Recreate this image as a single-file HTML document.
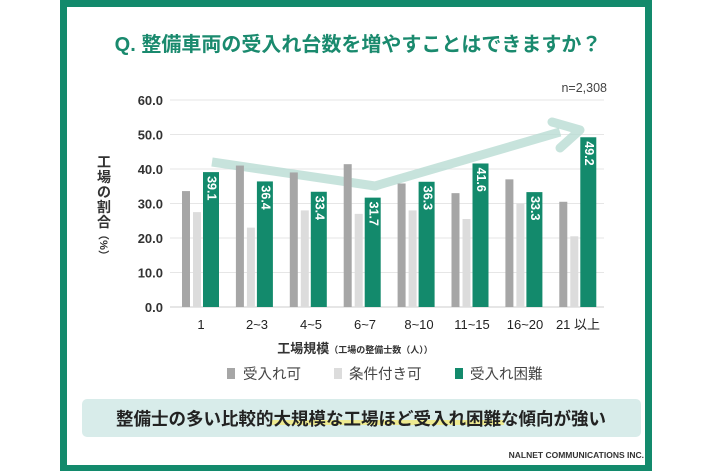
<!DOCTYPE html>
<html><head><meta charset="utf-8"><style>
html,body{margin:0;padding:0;background:#fff;}
svg{display:block;}
text{font-family:"Liberation Sans","Noto Sans CJK JP",sans-serif;}
</style></head><body>
<svg width="710" height="474" viewBox="0 0 710 474" xmlns="http://www.w3.org/2000/svg">
<rect x="0" y="0" width="710" height="474" fill="#fff"/>
<rect x="60" y="-5" width="592" height="476" fill="#138a6c"/>
<rect x="67" y="7" width="578" height="458" fill="#fff"/>
<text x="358" y="51" text-anchor="middle" font-size="20" font-weight="bold" fill="#1a8a6e">Q. 整備車両の受入れ台数を増やすことはできますか？</text>
<text x="607" y="92" text-anchor="end" font-size="12.5" fill="#444">n=2,308</text>
<g stroke="#e6e6e6" stroke-width="1">
<line x1="170" y1="100" x2="604" y2="100"/><line x1="170" y1="134.5" x2="604" y2="134.5"/><line x1="170" y1="169" x2="604" y2="169"/><line x1="170" y1="203.5" x2="604" y2="203.5"/><line x1="170" y1="238" x2="604" y2="238"/><line x1="170" y1="272.5" x2="604" y2="272.5"/>
</g>
<line x1="170" y1="307" x2="604" y2="307" stroke="#ccc" stroke-width="1"/>
<g font-size="13" font-weight="bold" fill="#333" text-anchor="end">
<text x="163" y="105">60.0</text><text x="163" y="139.5">50.0</text><text x="163" y="174">40.0</text><text x="163" y="208.5">30.0</text><text x="163" y="243">20.0</text><text x="163" y="277.5">10.0</text><text x="163" y="312">0.0</text>
</g>
<g font-size="14" font-weight="bold" fill="#333" text-anchor="middle">
<text x="104" y="167">工</text><text x="104" y="182">場</text><text x="104" y="197">の</text><text x="104" y="212">割</text><text x="104" y="227">合</text>
<text x="104" y="249" font-size="11" transform="rotate(90 104 245)">（%）</text>
</g>
<polyline points="212,162 375,186 560,132" fill="none" stroke="#b9dcd3" stroke-width="9" stroke-opacity="0.8" stroke-linejoin="round"/>
<polyline points="552,122 580,130 560,148" fill="none" stroke="#b9dcd3" stroke-width="9" stroke-opacity="0.8" stroke-linecap="round" stroke-linejoin="round"/>
<g id="bars"></g>
<g font-size="13" fill="#222" text-anchor="middle">
<text x="201" y="329">1</text><text x="257" y="329">2~3</text><text x="311" y="329">4~5</text><text x="365" y="329">6~7</text><text x="419" y="329">8~10</text><text x="472" y="329">11~15</text><text x="525" y="329">16~20</text><text x="578" y="329">21 以上</text>
</g>
<text x="355" y="353" text-anchor="middle" font-size="13" font-weight="bold" fill="#333">工場規模<tspan font-size="9">（工場の整備士数（人））</tspan></text>
<rect x="227" y="368" width="8" height="11" fill="#a6a6a6"/>
<text x="243" y="379" font-size="14.5" fill="#444">受入れ可</text>
<rect x="334" y="368" width="8" height="11" fill="#dcdcdc"/>
<text x="349" y="379" font-size="14.5" fill="#444">条件付き可</text>
<rect x="455" y="368" width="8" height="11" fill="#138a6c"/>
<text x="470" y="379" font-size="14.5" fill="#444">受入れ困難</text>
<rect x="82" y="399" width="559" height="38" rx="5" fill="#d8ecea"/>
<rect x="272" y="420" width="232" height="5" fill="#f3ea7a" opacity="0.8"/>
<text x="361" y="425" text-anchor="middle" font-size="17.5" font-weight="bold" fill="#222">整備士の多い比較的大規模な工場ほど受入れ困難な傾向が強い</text>
<text x="644" y="458" text-anchor="end" font-size="8.5" font-weight="bold" fill="#333">NALNET COMMUNICATIONS INC.</text>
<script>
(function(){
var g=document.getElementById('bars');var ns='http://www.w3.org/2000/svg';
var a=[33.6,41,39,41.4,35.8,33,37,30.5],b=[27.5,23,28,27,28,25.5,30,20.5],c=[39.1,36.4,33.4,31.7,36.3,41.6,33.3,49.2];
function r(x,v,w,f){var e=document.createElementNS(ns,'rect');var h=v*3.45;e.setAttribute('x',x);e.setAttribute('y',307-h);e.setAttribute('width',w);e.setAttribute('height',h);e.setAttribute('fill',f);g.appendChild(e);}
for(var i=0;i<8;i++){var gx=203+i*53.9;r(gx-21,a[i],8,'#a6a6a6');r(gx-10,b[i],8,'#dcdcdc');r(gx,c[i],16,'#138a6c');
var t=document.createElementNS(ns,'text');var cx=gx+8,ty=307-c[i]*3.45+4;t.setAttribute('x',cx);t.setAttribute('y',ty);t.setAttribute('transform','rotate(90 '+cx+' '+ty+')');t.setAttribute('font-size','12.5');t.setAttribute('font-weight','bold');t.setAttribute('fill','#fff');t.setAttribute('dominant-baseline','middle');t.textContent=c[i].toFixed(1);g.appendChild(t);}
})();
</script>
</svg>
</body></html>
